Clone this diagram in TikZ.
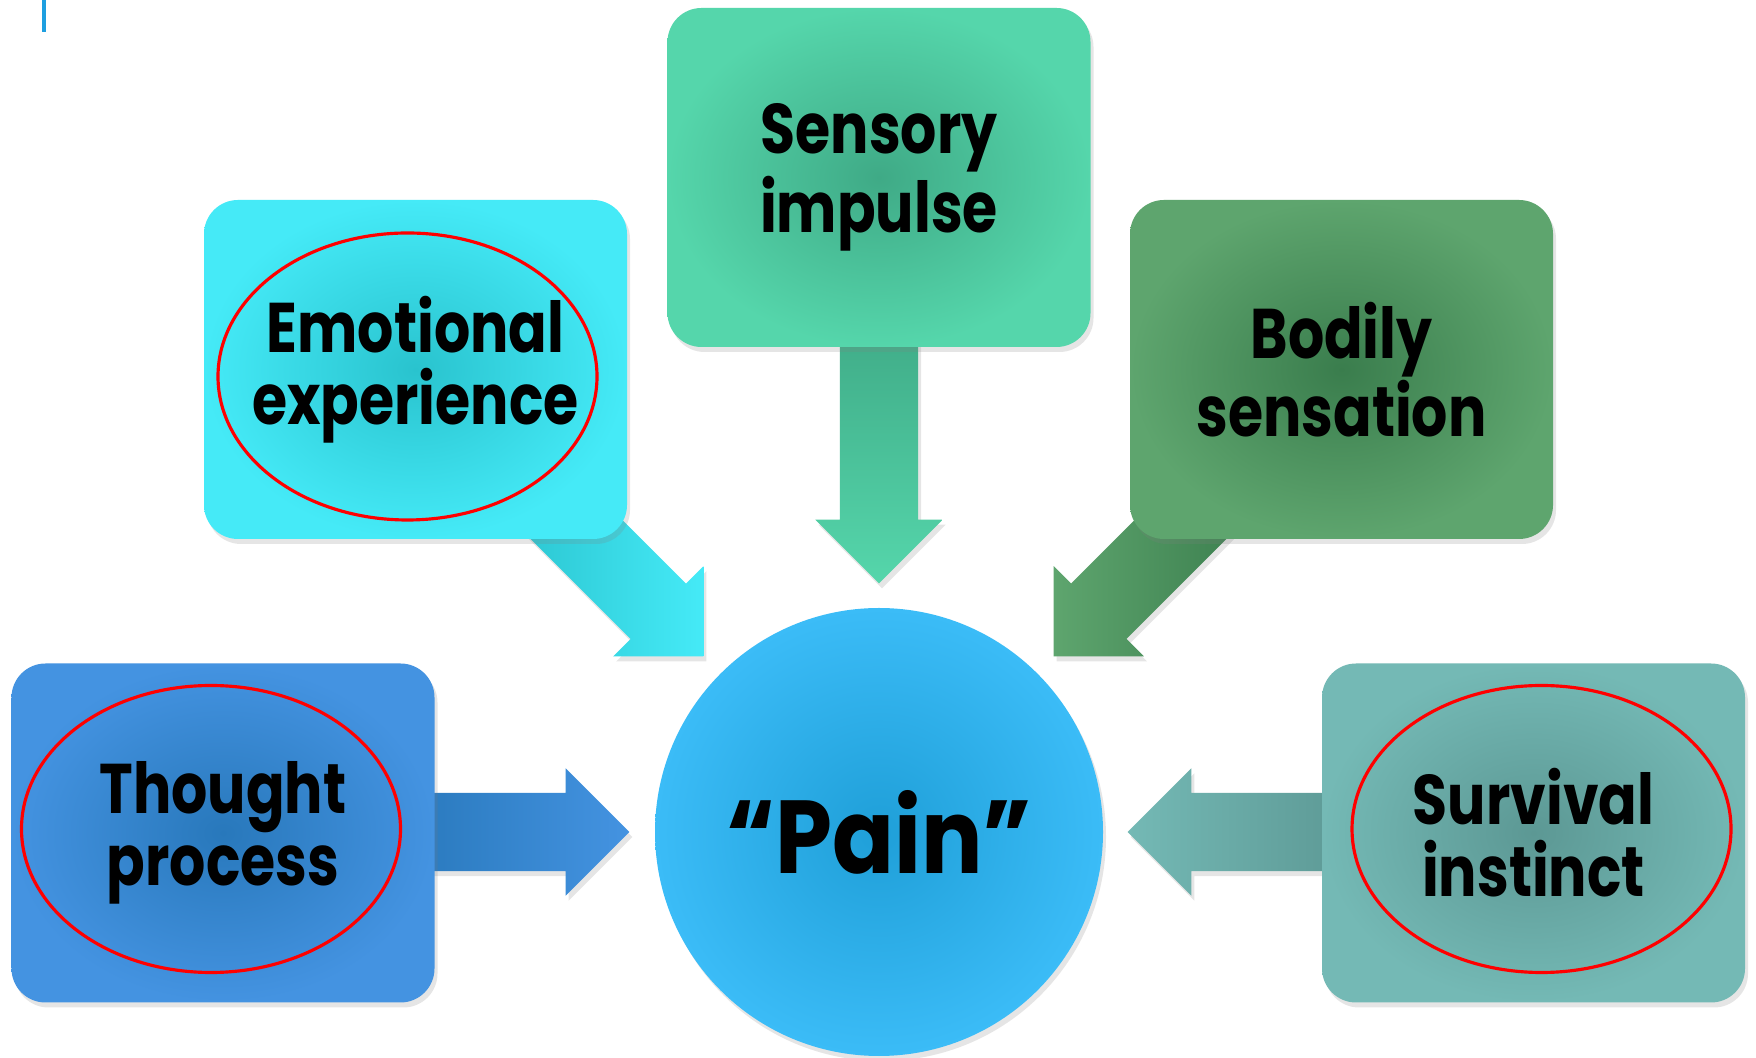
\documentclass[tikz,border=0pt]{standalone}
\usepackage{fontspec}
\setmainfont{Poppins}[FakeStretch=0.81]
\newfontfamily\grosfont{Poppins}[FakeStretch=0.88, Ligatures=TeX]
\usetikzlibrary{shapes.geometric,shapes.arrows,shadows}

% couleurs : centre (C) et bord (B)
\definecolor{penseeC}{HTML}{2878BB}
\definecolor{penseeB}{HTML}{4493E1}
\definecolor{emoC}{HTML}{29C3CE}
\definecolor{emoB}{HTML}{45EAF7}
\definecolor{sensC}{HTML}{3FAA86}
\definecolor{sensB}{HTML}{55D6AB}
\definecolor{corpsC}{HTML}{3A7D4D}
\definecolor{corpsB}{HTML}{5EA56E}
\definecolor{survieC}{HTML}{5C9894}
\definecolor{survieB}{HTML}{74B9B5}
\definecolor{douleurC}{HTML}{1F9FD8}
\definecolor{douleurB}{HTML}{3BBCF7}
\definecolor{trait}{HTML}{1E9FE0}

\tikzset{
  ombre/.style={drop shadow={opacity=0.2,shadow xshift=0.03cm,shadow yshift=-0.05cm}},
  boite/.style={rectangle, rounded corners=0.34cm, minimum width=4.23cm, minimum height=3.39cm,
    align=center, ombre, font=\bfseries\fontsize{20}{20.5}\selectfont},
  bulle/.style={ellipse, draw=red, line width=0.9pt, minimum width=3.79cm, minimum height=2.87cm},
  fleche/.style={single arrow, single arrow tip angle=90, single arrow head extend=0.245cm,
    inner xsep=0pt, inner ysep=0.385cm, minimum height=#1, anchor=tip, ombre},
}

\begin{document}
\begin{tikzpicture}
  \path[use as bounding box, fill=white] (0,0) rectangle (17.56,10.57);
  \draw[trait, line width=0.9pt] (0.44,10.57) -- (0.44,10.25);

  % cercle central
  \node[circle, minimum size=4.48cm, shade, inner color=douleurC, outer color=douleurB, ombre,
    font=\grosfont\bfseries\fontsize{29.5}{30}\selectfont] (douleur) at (8.79,2.25) {“Pain”};

  % fleches (sous les boites)
  \node[fleche=2.3cm, shade, left color=penseeC, right color=penseeB] (fpensee) at ([xshift=-0.24cm]douleur.west) {};
  \node[fleche=2.3cm, shade, left color=survieB, right color=survieC, rotate=180] (fsurvie) at ([xshift=0.23cm]douleur.east) {};
  \node[fleche=2.7cm, shade, top color=sensC, bottom color=sensB, rotate=-90] (fsens) at ([yshift=0.23cm]douleur.north) {};
  \node[fleche=2.5cm, shade, left color=emoC, right color=emoB, rotate=-45] (femo) at (7.04,4.00) {};
  \node[fleche=2.5cm, shade, left color=corpsB, right color=corpsC, rotate=-135] (fcorps) at (10.53,4.00) {};

  % boites
  \node[boite, shade, inner color=penseeC, outer color=penseeB] (pensee) at (2.23,2.24) {Thought\\process};
  \node[boite, shade, inner color=survieC, outer color=survieB] (survie) at (15.335,2.24) {Survival\\instinct};
  \node[boite, shade, inner color=emoC, outer color=emoB] (emo) at (4.155,6.875) {Emotional\\experience};
  \node[boite, shade, inner color=sensC, outer color=sensB] (sens) at (8.79,8.795) {Sensory\\impulse};
  \node[boite, shade, inner color=corpsC, outer color=corpsB] (corps) at (13.415,6.875) {Bodily\\sensation};

  % ellipses rouges
  \node[bulle] (bpensee) at ([xshift=-0.12cm,yshift=0.04cm]pensee.center) {};
  \node[bulle] (bsurvie) at ([xshift=0.08cm,yshift=0.04cm]survie.center) {};
  \node[bulle] (bemo) at ([xshift=-0.08cm,yshift=-0.07cm]emo.center) {};
\end{tikzpicture}
\end{document}
